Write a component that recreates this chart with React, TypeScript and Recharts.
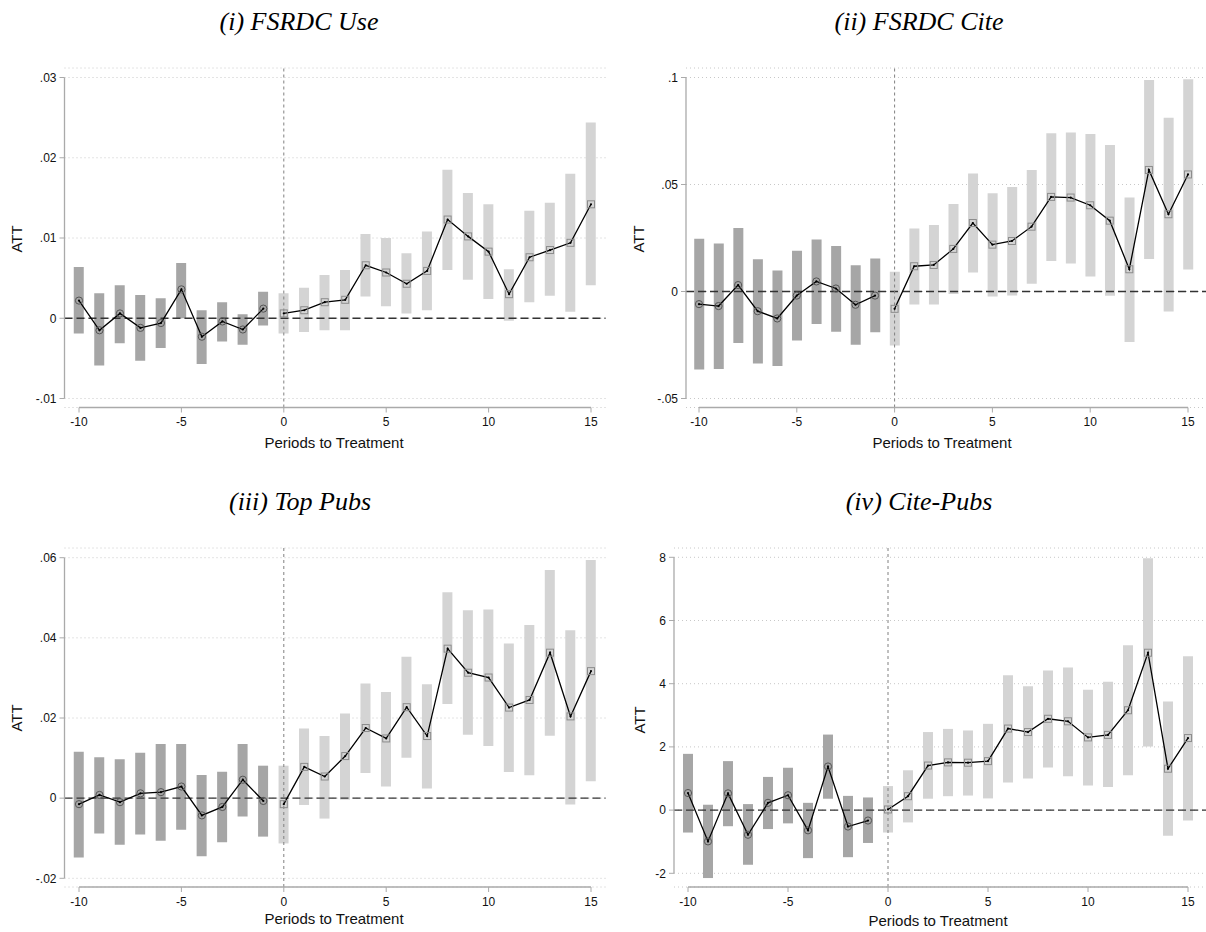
import React from "react";
import { ComposedChart, Bar, Cell, Line, XAxis, YAxis, CartesianGrid, ReferenceLine } from "recharts";

// event time, shared by all four panels
const PERIODS = [-10, -9, -8, -7, -6, -5, -4, -3, -2, -1, 0, 1, 2, 3, 4, 5, 6, 7, 8, 9, 10, 11, 12, 13, 14, 15];
const X_TICKS = [-10, -5, 0, 5, 10, 15];

// (i) FSRDC Use
const useEst = [0.0022, -0.0015, 0.0006, -0.0012, -0.0006, 0.0036, -0.0023, -0.0004, -0.0014, 0.0012, 0.0006, 0.001, 0.002, 0.0023, 0.0066, 0.0057, 0.0043, 0.0059, 0.0123, 0.0102, 0.0083, 0.003, 0.0076, 0.0085, 0.0094, 0.0142];
const useLo = [-0.0019, -0.0059, -0.0031, -0.0053, -0.0037, 0.0, -0.0057, -0.0029, -0.0033, -0.0009, -0.0019, -0.0017, -0.0015, -0.0015, 0.0027, 0.0015, 0.0006, 0.001, 0.006, 0.0048, 0.0024, -0.0003, 0.002, 0.0028, 0.0008, 0.0041];
const useHi = [0.0064, 0.0031, 0.0041, 0.0029, 0.0025, 0.0069, 0.001, 0.002, 0.0005, 0.0033, 0.0031, 0.0038, 0.0054, 0.006, 0.0105, 0.01, 0.0081, 0.0108, 0.0185, 0.0156, 0.0142, 0.0061, 0.0134, 0.0144, 0.018, 0.0244];
const useTicks = [-0.01, 0, 0.01, 0.02, 0.03];

// (ii) FSRDC Cite
const citeEst = [-0.0059, -0.0068, 0.003, -0.0092, -0.0126, -0.0019, 0.0047, 0.0014, -0.0062, -0.0019, -0.0081, 0.0118, 0.0124, 0.0199, 0.032, 0.0219, 0.0236, 0.0303, 0.0442, 0.0439, 0.0403, 0.0331, 0.0104, 0.0568, 0.0361, 0.0547];
const citeLo = [-0.0365, -0.0362, -0.0241, -0.0336, -0.0348, -0.0229, -0.0152, -0.0188, -0.0249, -0.0191, -0.0252, -0.0061, -0.0061, -0.0012, 0.0089, -0.0023, -0.0019, 0.0036, 0.0143, 0.0131, 0.007, -0.002, -0.0236, 0.0152, -0.0093, 0.0103];
const citeHi = [0.0246, 0.0224, 0.0297, 0.0151, 0.0098, 0.019, 0.0243, 0.0213, 0.0123, 0.0154, 0.0092, 0.0294, 0.0311, 0.0409, 0.0551, 0.0459, 0.0488, 0.0568, 0.0739, 0.0743, 0.0736, 0.0684, 0.0439, 0.0988, 0.0812, 0.0992];
const citeTicks = [-0.05, 0, 0.05, 0.1];

// (iii) Top Pubs
const topEst = [-0.0015, 0.0008, -0.001, 0.0012, 0.0015, 0.0029, -0.0043, -0.0022, 0.0046, -0.0007, -0.0015, 0.0078, 0.0054, 0.0105, 0.0175, 0.0149, 0.0227, 0.0155, 0.0373, 0.0313, 0.0301, 0.0226, 0.0245, 0.0363, 0.0204, 0.0317];
const topLo = [-0.0148, -0.0088, -0.0116, -0.0091, -0.0106, -0.0079, -0.0145, -0.011, -0.0046, -0.0096, -0.0113, -0.0017, -0.0051, -0.0004, 0.0063, 0.0029, 0.0101, 0.0024, 0.0235, 0.0158, 0.013, 0.0065, 0.0057, 0.0156, -0.0016, 0.0042];
const topHi = [0.0116, 0.0102, 0.0097, 0.0113, 0.0135, 0.0135, 0.0058, 0.0066, 0.0135, 0.0081, 0.0081, 0.0174, 0.0155, 0.0211, 0.0286, 0.0265, 0.0353, 0.0284, 0.0514, 0.0469, 0.0471, 0.0386, 0.0432, 0.0569, 0.0419, 0.0594];
const topTicks = [-0.02, 0, 0.02, 0.04, 0.06];

// (iv) Cite-Pubs
const cpEst = [0.54, -0.99, 0.53, -0.78, 0.23, 0.47, -0.64, 1.38, -0.52, -0.33, 0.02, 0.44, 1.41, 1.51, 1.5, 1.55, 2.58, 2.47, 2.89, 2.81, 2.3, 2.38, 3.16, 4.98, 1.31, 2.28];
const cpLo = [-0.71, -2.15, -0.51, -1.73, -0.6, -0.42, -1.52, 0.36, -1.49, -1.04, -0.71, -0.39, 0.36, 0.44, 0.46, 0.37, 0.87, 1.0, 1.35, 1.07, 0.78, 0.73, 1.1, 2.01, -0.81, -0.33];
const cpHi = [1.78, 0.17, 1.55, 0.19, 1.05, 1.34, 0.23, 2.39, 0.45, 0.4, 0.76, 1.26, 2.47, 2.57, 2.52, 2.73, 4.27, 3.92, 4.42, 4.51, 3.81, 4.06, 5.22, 7.97, 3.44, 4.87];
const cpTicks = [-2, 0, 2, 4, 6, 8];

const SANS = "'Liberation Sans', Arial, Helvetica, sans-serif";
const SERIF = "'Liberation Serif', 'Times New Roman', serif";
const AXIS_GRAY = "#aaaaaa";

const fmtTick = (v: number) => {
	if (v === 0) return "0";
	const s = String(Number(v.toFixed(4)));
	return s.replace(/^(-?)0\./, "$1.");
};

const PreDot = (props: any) => {
	const { cx, cy, index } = props;
	if (cx == null || cy == null || isNaN(cy)) return <g key={`pre-${index}`} />;
	return (
		<g key={`pre-${index}`}>
			<circle cx={cx} cy={cy} r={3.6} fill="none" stroke="#555" strokeWidth={1} />
			<circle cx={cx} cy={cy} r={1.1} fill="#000" />
		</g>
	);
};

const PostDot = (props: any) => {
	const { cx, cy, index } = props;
	if (cx == null || cy == null || isNaN(cy)) return <g key={`post-${index}`} />;
	return (
		<g key={`post-${index}`}>
			<rect x={cx - 3.5} y={cy - 3.5} width={7} height={7} fill="none" stroke="#8c8c8c" strokeWidth={1} />
			<circle cx={cx} cy={cy} r={1.1} fill="#000" />
		</g>
	);
};

interface PanelProps {
	title: string;
	est: number[];
	lo: number[];
	hi: number[];
	yTicks: number[];
	box: { left: number; top: number; width: number; height: number };
	plot: { left: number; right: number; top: number; bottom: number };
	xCal: [number, number];
	yCal: [number, number, number, number]; // top value, top px, bottom value, bottom px
	titlePos: [number, number];
	attPos: [number, number];
	xTitlePos: [number, number];
}

function Panel(p: PanelProps) {
	const data = PERIODS.map((t, i) => ({
		period: t,
		ci: [p.lo[i], p.hi[i]],
		pre: t < 0 ? p.est[i] : null,
		post: t >= 0 ? p.est[i] : null,
	}));

	// map the reference's pixel layout onto axis domains
	const xppu = (p.xCal[1] - p.xCal[0]) / 25;
	const xd0 = -10 - (p.xCal[0] - p.plot.left) / xppu;
	const xd1 = 15 + (p.plot.right - p.xCal[1]) / xppu;
	const [vTop, pTop, vBot, pBot] = p.yCal;
	const yppu = (pBot - pTop) / (vTop - vBot);
	const yd1 = vTop + (pTop - p.plot.top) / yppu;
	const yd0 = vBot - (p.plot.bottom - pBot) / yppu;

	const margin = {
		top: p.plot.top - p.box.top,
		left: 0,
		right: p.box.left + p.box.width - p.plot.right,
		bottom: 0,
	};

	const label = (x: number, y: number, content: string, style: React.CSSProperties, rotate = false) => (
		<div
			style={{
				position: "absolute",
				left: x,
				top: y,
				transform: "translate(-50%, -50%)" + (rotate ? " rotate(-90deg)" : ""),
				whiteSpace: "nowrap",
				lineHeight: 1,
				color: "#111",
				...style,
			}}
		>
			{content}
		</div>
	);

	return (
		<>
			<div style={{ position: "absolute", left: p.box.left, top: p.box.top }}>
				<ComposedChart width={p.box.width} height={p.box.height} data={data} margin={margin}>
					<CartesianGrid vertical={false} stroke="#c8c8c8" strokeDasharray="1 3" />
					<XAxis
						type="number"
						dataKey="period"
						domain={[xd0, xd1]}
						allowDataOverflow
						ticks={X_TICKS}
						interval={0}
						height={p.box.top + p.box.height - p.plot.bottom}
						axisLine={false}
						tickLine={{ stroke: AXIS_GRAY }}
						tickSize={5}
						tickMargin={5}
						tick={{ fontSize: 12, fill: "#111", fontFamily: SANS }}
					/>
					<YAxis
						type="number"
						domain={[yd0, yd1]}
						allowDataOverflow
						ticks={p.yTicks}
						interval={0}
						width={p.plot.left - p.box.left}
						axisLine={false}
						tickLine={{ stroke: AXIS_GRAY }}
						tickSize={5}
						tickMargin={3}
						tickFormatter={fmtTick}
						tick={{ fontSize: 12, fill: "#111", fontFamily: SANS }}
					/>
					<Bar dataKey="ci" barSize={10} isAnimationActive={false}>
						{data.map((d, i) => (
							<Cell key={`c-${i}`} fill={d.period < 0 ? "#a6a6a6" : "#d4d4d4"} />
						))}
					</Bar>
					<ReferenceLine y={0} stroke="#333" strokeWidth={1.3} strokeDasharray="8 4" />
					<ReferenceLine x={0} stroke="#808080" strokeWidth={1} strokeDasharray="3 3" />
					<ReferenceLine
						ifOverflow="visible"
						segment={[{ x: xd0, y: vBot }, { x: xd0, y: vTop }]}
						stroke={AXIS_GRAY}
						strokeWidth={1.3}
					/>
					<ReferenceLine
						ifOverflow="visible"
						segment={[{ x: -10, y: yd0 }, { x: 15, y: yd0 }]}
						stroke={AXIS_GRAY}
						strokeWidth={1.3}
					/>
					<Line type="linear" dataKey="pre" stroke="#000" strokeWidth={1.3} dot={PreDot} activeDot={false} connectNulls={false} isAnimationActive={false} />
					<Line type="linear" dataKey="post" stroke="#000" strokeWidth={1.3} dot={PostDot} activeDot={false} connectNulls={false} isAnimationActive={false} />
				</ComposedChart>
			</div>
			{label(p.titlePos[0], p.titlePos[1], p.title, { fontFamily: SERIF, fontStyle: "italic", fontSize: 26, color: "#000" })}
			{label(p.xTitlePos[0], p.xTitlePos[1], "Periods to Treatment", { fontFamily: SANS, fontSize: 15 })}
			{label(p.attPos[0], p.attPos[1], "ATT", { fontFamily: SANS, fontSize: 15 }, true)}
		</>
	);
}

export default function App() {
	return (
		<div style={{ position: "absolute", left: 0, top: 0, width: 1206, height: 932, background: "#fff", overflow: "hidden" }}>
			<Panel
				title="(i) FSRDC Use"
				est={useEst}
				lo={useLo}
				hi={useHi}
				yTicks={useTicks}
				box={{ left: 0, top: 0, width: 606, height: 466 }}
				plot={{ left: 64.5, right: 605.5, top: 68, bottom: 407.5 }}
				xCal={[79, 591]}
				yCal={[0.03, 77.5, -0.01, 398.5]}
				titlePos={[299, 22]}
				attPos={[16, 239]}
				xTitlePos={[334, 442]}
			/>
			<Panel
				title="(ii) FSRDC Cite"
				est={citeEst}
				lo={citeLo}
				hi={citeHi}
				yTicks={citeTicks}
				box={{ left: 603, top: 0, width: 603, height: 466 }}
				plot={{ left: 686, right: 1206, top: 68, bottom: 407.5 }}
				xCal={[699, 1188]}
				yCal={[0.1, 77.5, -0.05, 398.5]}
				titlePos={[919, 22]}
				attPos={[638, 239]}
				xTitlePos={[942, 442]}
			/>
			<Panel
				title="(iii) Top Pubs"
				est={topEst}
				lo={topLo}
				hi={topHi}
				yTicks={topTicks}
				box={{ left: 0, top: 466, width: 606, height: 466 }}
				plot={{ left: 64.5, right: 605.5, top: 548, bottom: 887 }}
				xCal={[79, 591]}
				yCal={[0.06, 557.7, -0.02, 878.3]}
				titlePos={[300, 502]}
				attPos={[16, 718]}
				xTitlePos={[334, 918]}
			/>
			<Panel
				title="(iv) Cite-Pubs"
				est={cpEst}
				lo={cpLo}
				hi={cpHi}
				yTicks={cpTicks}
				box={{ left: 603, top: 466, width: 603, height: 466 }}
				plot={{ left: 674, right: 1206, top: 548, bottom: 887 }}
				xCal={[688, 1188]}
				yCal={[8, 557.3, -2, 873.3]}
				titlePos={[919, 502]}
				attPos={[639, 720]}
				xTitlePos={[938, 920]}
			/>
		</div>
	);
}
